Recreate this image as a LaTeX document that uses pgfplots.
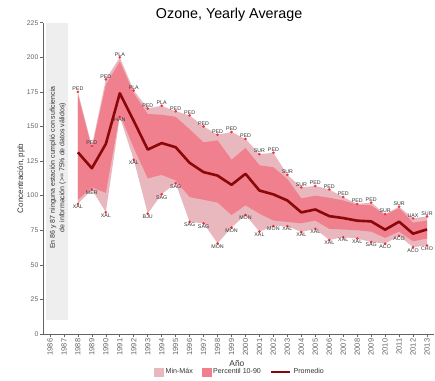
\documentclass[border=0pt]{standalone}
\usepackage{pgfplots}
\pgfplotsset{compat=1.18}
\usepackage{pgfplotstable}
\usepgfplotslibrary{fillbetween}
\usepackage{fontspec}
\setmainfont{Liberation Sans}
\definecolor{lightband}{RGB}{233,184,190}
\definecolor{darkband}{RGB}{240,128,141}
\definecolor{meanline}{RGB}{138,8,10}
\definecolor{dotred}{RGB}{245,45,65}
\definecolor{axgray}{RGB}{100,100,100}
\definecolor{labgray}{RGB}{50,50,50}
\definecolor{boxgray}{RGB}{238,238,238}

\pgfplotstableread{
year max p90 mean p10 min maxlab minlab
1988 175 173 131.3 97 94 PED XAL
1989 136 134 119.8 106 104.5 PED MER
1990 184 180 137.4 102 88 PED XAL
1991 200 197 174 159 157 PLA HAN
1992 176 174 154 134.5 126 PLA XAL
1993 163 159 133.3 112.5 87 PED BJU
1994 165 158.5 138 115 101 PLA SAG
1995 161 157 135 111 109 PED SAG
1996 158 148 123.7 99 81 PED SAG
1997 150 138.5 117 97 80 PED SAG
1998 144 140 114.5 95 65.5 PED MON
1999 146 126 107.8 86 77 PED MON
2000 141 134.5 115.8 93 86 PED MON
2001 130 122 103.7 87 74 SUR XAL
2002 131 120.5 100.9 82 78 PED MON
2003 115 112 96.5 81 78 SUR XAL
2004 106 98 87.9 80 73.7 SUR XAL
2005 107 100 90 82 76 PED XAL
2006 104.5 98.5 85.2 76 68 PED XAL
2007 99 96.5 83.8 75.5 70 PED XAL
2008 94 93.5 81.9 75 69 PED XAL
2009 95 93 81.4 74 66.5 PED SAG
2010 86.7 86 75.4 69.5 65.3 SUR ACO
2011 92 91 81.2 74 71 SUR ACO
2012 83.6 80.5 72.5 67 62.7 UAX ACO
2013 85 82 75.6 69 64 SUR CHO
}\data

\begin{document}
\begin{tikzpicture}
\begin{axis}[
  at={(43pt,46pt)}, anchor=south west,
  width=391pt, height=311.3pt, scale only axis,
  xmin=1985.5, xmax=2013.5, ymin=0, ymax=225,
  axis x line*=bottom, axis y line*=left,
  axis line style={axgray, line width=0.8pt, -},
  xtick={1986,...,2013}, ytick={0,25,...,225},
  tick align=outside, major tick length=3pt,
  tick style={axgray, line width=0.6pt},
  /pgf/number format/1000 sep={},
  /pgf/number format/assume math mode=true,
  x tick label style={rotate=90, anchor=east, font=\fontsize{7.5}{8}\selectfont, text=axgray, inner sep=1.5pt},
  y tick label style={font=\fontsize{6.8}{8}\selectfont, text=axgray, inner sep=1.5pt},
  clip=false,
  title={Ozone, Yearly Average},
  title style={at={(axis description cs:0.476,0.993)}, anchor=base, yshift=0pt, font=\fontsize{14.3}{16}\selectfont},
  ylabel={Concentración, ppb},
  ylabel style={at={(axis description cs:-0.056,0.5)}, anchor=center, font=\fontsize{8}{9}\selectfont, text=labgray},
  xlabel={Año},
  xlabel style={at={(axis description cs:0.496,-0.103)}, anchor=base, font=\fontsize{8.4}{9}\selectfont, text=labgray},
  legend style={at={(axis description cs:0.504,-0.122)}, anchor=center, draw=none, fill=none,
    legend columns=3, font=\fontsize{7.1}{8}\selectfont, text=labgray,
    /tikz/every even column/.append style={column sep=7pt}},
  legend cell align=left,
]
\fill[boxgray] (axis cs:1985.7,10) rectangle (axis cs:1987.3,225);
\node[rotate=90, align=center, font=\fontsize{7}{9.5}\selectfont, text=labgray]
  at (axis cs:1986.55,120.3) {En 86 y 87 ninguna estación cumplió con suficiencia\\de información (>= 75\% de datos válidos)};

\addplot[name path=maxp, draw=none, forget plot] table[x=year,y=max]{\data};
\addplot[name path=minp, draw=none, forget plot] table[x=year,y=min]{\data};
\addplot[lightband, draw=none, forget plot] fill between[of=maxp and minp];
\addplot[name path=p90p, draw=none, forget plot] table[x=year,y=p90]{\data};
\addplot[name path=p10p, draw=none, forget plot] table[x=year,y=p10]{\data};
\addplot[darkband, draw=none, forget plot] fill between[of=p90p and p10p];
\addplot[meanline, line width=2.6pt, line join=round, no marks, forget plot] table[x=year,y=mean]{\data};

\addplot[only marks, mark=*, mark size=1.1pt, dotred, forget plot,
  nodes near coords, point meta=explicit symbolic,
  every node near coord/.style={font=\fontsize{5.3}{6}\selectfont, text=labgray, anchor=south, inner sep=1pt}]
  table[x=year,y=max,meta=maxlab]{\data};
\addplot[only marks, mark=*, mark size=1.1pt, dotred, forget plot,
  nodes near coords, point meta=explicit symbolic,
  every node near coord/.style={font=\fontsize{5.3}{6}\selectfont, text=labgray, anchor=north, inner sep=1pt}]
  table[x=year,y=min,meta=minlab]{\data};

\addlegendimage{legend image code/.code={\fill[lightband] (0pt,-4pt) rectangle (9pt,4pt);}}
\addlegendentry{Min-Máx}
\addlegendimage{legend image code/.code={\fill[darkband] (0pt,-4pt) rectangle (9pt,4pt);}}
\addlegendentry{Percentil 10-90}
\addlegendimage{legend image code/.code={\draw[meanline, line width=2.6pt] (0pt,0pt) -- (19pt,0pt);}}
\addlegendentry{Promedio}
\end{axis}
\pgfresetboundingbox
\path[use as bounding box] (0,0) rectangle (435pt,380pt);
\end{tikzpicture}
\end{document}
